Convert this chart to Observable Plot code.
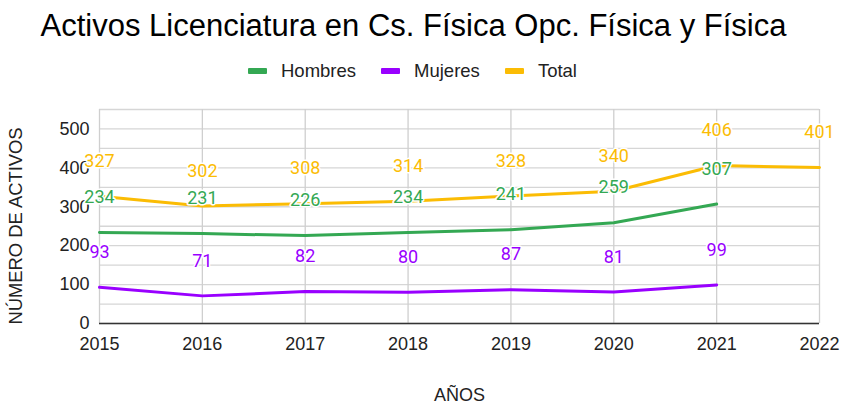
<!DOCTYPE html>
<html>
<head>
<meta charset="utf-8">
<script src="https://cdn.jsdelivr.net/npm/d3@7"></script>
<script src="https://cdn.jsdelivr.net/npm/@observablehq/plot@0.6"></script>
<style>
  html, body { margin: 0; padding: 0; background: #fff; }
  #wrap { width: 841px; height: 403px; position: relative; overflow: hidden; font-family: "Liberation Sans", Arial, sans-serif; background: #fff; }
  #title { position: absolute; left: -7px; width: 841px; top: 6px; text-align: center; font-size: 31px; color: #000; line-height: 40px; white-space: nowrap; }
  #legend { position: absolute; left: 248px; top: 60px; font-size: 18.5px; color: #222; line-height: 22px; white-space: nowrap; }
  #legend .item { display: inline-block; margin-right: 25px; }
  #legend .sw { display: inline-block; width: 19px; height: 6px; border-radius: 1px; vertical-align: middle; margin-right: 14px; position: relative; top: -1px; }
  #ylabel { position: absolute; z-index: 5; left: 16px; top: 226px; transform: translate(-50%, -50%) rotate(-90deg); font-size: 18.4px; color: #222; white-space: nowrap; line-height: 22px; }
  #chart { position: absolute; z-index: 1; left: 0; top: 95px; }
</style>
</head>
<body>
<div id="wrap">
  <div id="title"></div>
  <div id="legend"></div>
  <div id="chart"></div>
  <div id="ylabel"></div>
</div>
<script>
const titleText = "Activos Licenciatura en Cs. Física Opc. Física y Física";
const xLabel = "AÑOS";
const yLabel = "NÚMERO DE ACTIVOS";
const years = [2015, 2016, 2017, 2018, 2019, 2020, 2021, 2022];
const seriesNames = ["Hombres", "Mujeres", "Total"];
const seriesColors = ["#34a853", "#9900ff", "#fbbc04"];
const hombres = [234, 231, 226, 234, 241, 259, 307];
const mujeres = [93, 71, 82, 80, 87, 81, 99];
const total = [327, 302, 308, 314, 328, 340, 406, 401];
const yTicks = [0, 100, 200, 300, 400, 500];
const yGrid = [0, 50, 100, 150, 200, 250, 300, 350, 400, 450, 500, 550];

document.getElementById("title").textContent = titleText;
document.getElementById("ylabel").textContent = yLabel;
const legend = document.getElementById("legend");
seriesNames.forEach((n, i) => {
  const it = document.createElement("span");
  it.className = "item";
  const sw = document.createElement("span");
  sw.className = "sw";
  sw.style.background = seriesColors[i];
  it.appendChild(sw);
  it.appendChild(document.createTextNode(n));
  legend.appendChild(it);
});

const valuesBySeries = [hombres, mujeres, total];
const rows = [];
seriesNames.forEach((s, i) => {
  valuesBySeries[i].forEach((v, j) => rows.push({series: s, year: years[j], value: v}));
});

const chart = Plot.plot({
  width: 841,
  height: 308,
  marginLeft: 99,
  marginRight: 22,
  marginTop: 14,
  marginBottom: 80,
  style: {fontFamily: "'Liberation Sans', Arial, sans-serif", fontSize: "18px", color: "#222", background: "transparent"},
  x: {type: "linear", domain: [2015, 2022]},
  y: {domain: [0, 550]},
  color: {domain: seriesNames, range: seriesColors},
  marks: [
    Plot.ruleY(yGrid, {y: d => d, stroke: "#d6d6d6", strokeWidth: 1.3}),
    Plot.ruleX(years, {x: d => d, stroke: "#cfcfcf", strokeWidth: 1.3}),
    Plot.ruleY([0], {stroke: "#333", strokeWidth: 1.3}),
    Plot.axisY({ticks: yTicks, tickSize: 0, tickPadding: 10, label: null, fontSize: 18}),
    Plot.axisX({ticks: years, tickFormat: d => String(d), tickSize: 0, tickPadding: 14, label: xLabel, labelAnchor: "center", labelArrow: "none", labelOffset: 77, fontSize: 18}),
    Plot.line(rows, {x: "year", y: "value", z: "series", stroke: "series", strokeWidth: 3, strokeLinejoin: "round", curve: "linear"}),
    Plot.text(rows, {x: "year", y: "value", text: d => String(d.value), fill: "series", dy: -35, fontFamily: "Roboto, sans-serif", fontSize: 18, stroke: "white", strokeWidth: 3, paintOrder: "stroke"})
  ]
});
document.getElementById("chart").appendChild(chart);
</script>
</body>
</html>
